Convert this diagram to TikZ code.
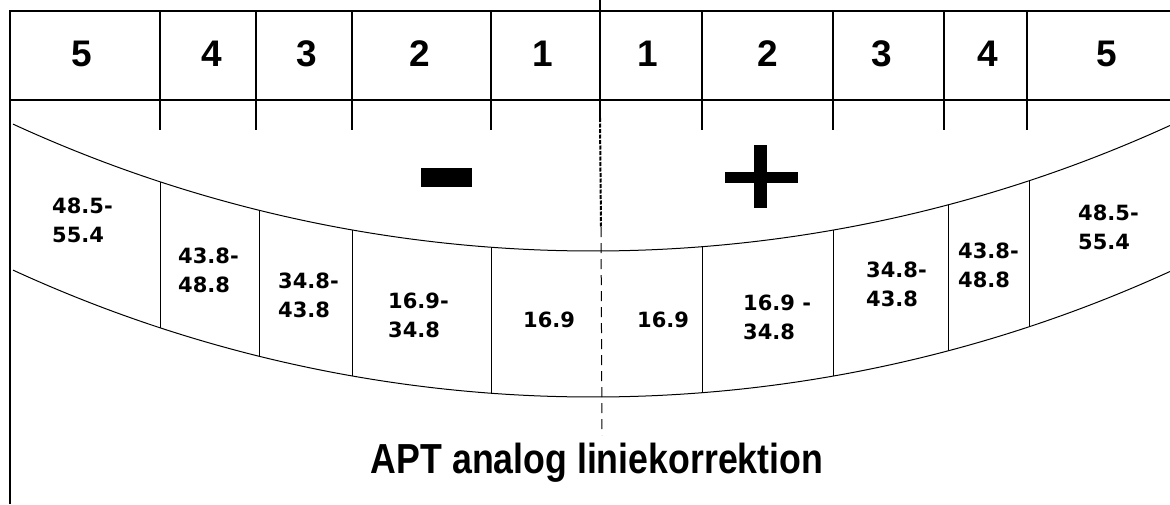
\documentclass[tikz,border=0pt]{standalone}
\usepackage{fontspec}
\newfontfamily\libsans{Liberation Sans}
\newfontfamily\dvsans{DejaVu Sans}
\begin{document}
\begin{tikzpicture}[x=1pt,y=-1pt,
  frame/.style={line width=1.4pt},
  curve/.style={line width=1pt},
  hdr/.style={font=\libsans\bfseries\fontsize{37}{40}\selectfont, inner sep=0pt},
  lbl/.style={font=\dvsans\bfseries\fontsize{21}{29}\selectfont, align=left, anchor=north west, inner sep=0pt},
  declare function={ytop(\t)=251-100*(13.89-sqrt(192.93-((\t-593)/100)^2));}]
\useasboundingbox (0,0) rectangle (1170,504);
% frame
\draw[frame] (10,504) -- (10,11) -- (1170,11);
\draw[frame] (10,100) -- (1170,100);
\foreach \d in {160,256,352,491,702,833,944,1027}
  \draw[frame] (\d,11) -- (\d,130);
% centre line
\coordinate (c0) at (600,0);
\coordinate (c1) at (600,118);
\coordinate (c2) at (601,227);
\coordinate (c3) at (602,435);
\draw[frame] (c0) -- (c1);
\draw[line width=2pt, dash pattern=on 4pt off 1.5pt] (c1) -- (c2);
\draw[line width=1pt, dash pattern=on 10pt off 6pt] (c2) -- (c3);
% header digits
\node[hdr] (h5l) at (82,54) {5};
\node[hdr] (h4l) at (212,54) {4};
\node[hdr] (h3l) at (307,54) {3};
\node[hdr] (h2l) at (420,54) {2};
\node[hdr] (h1l) at (543,54) {1};
\node[hdr] (h1r) at (648,54) {1};
\node[hdr] (h2r) at (768,54) {2};
\node[hdr] (h3r) at (882,54) {3};
\node[hdr] (h4r) at (988,54) {4};
\node[hdr] (h5r) at (1107,54) {5};
% curved band
\draw[curve] plot[domain=13:1170,samples=150] (\x,{ytop(\x)});
\draw[curve] plot[domain=13:1170,samples=150] (\x,{ytop(\x)+146});
\foreach \d in {160,259,352,491,702,833,948,1029}
  \draw[curve] (\d,{ytop(\d)}) -- (\d,{ytop(\d)+146});
% minus and plus
\fill (421,168) rectangle (472,187);
\fill (725,172) rectangle (798,183);
\fill (754,145) rectangle (767,208);
% cell labels
\node[lbl] (l5) at (52,198) {48.5-\\55.4};
\node[lbl] (l4) at (178,248) {43.8-\\48.8};
\node[lbl] (l3) at (278,273) {34.8-\\43.8};
\node[lbl] (l2) at (388,293) {16.9-\\34.8};
\node[lbl] (l1) at (523,312) {16.9};
\node[lbl] (r1) at (637,312) {16.9};
\node[lbl] (r2) at (743,295) {16.9 -\\34.8};
\node[lbl] (r3) at (866,262) {34.8-\\43.8};
\node[lbl] (r4) at (958,243) {43.8-\\48.8};
\node[lbl] (r5) at (1078,205) {48.5-\\55.4};
% title
\node[anchor=base, inner sep=0pt, font=\libsans\bfseries\fontsize{42}{46}\selectfont] (title) at (597,473) {\scalebox{0.85}[1]{APT analog liniekorrektion}};
\end{tikzpicture}
\end{document}
